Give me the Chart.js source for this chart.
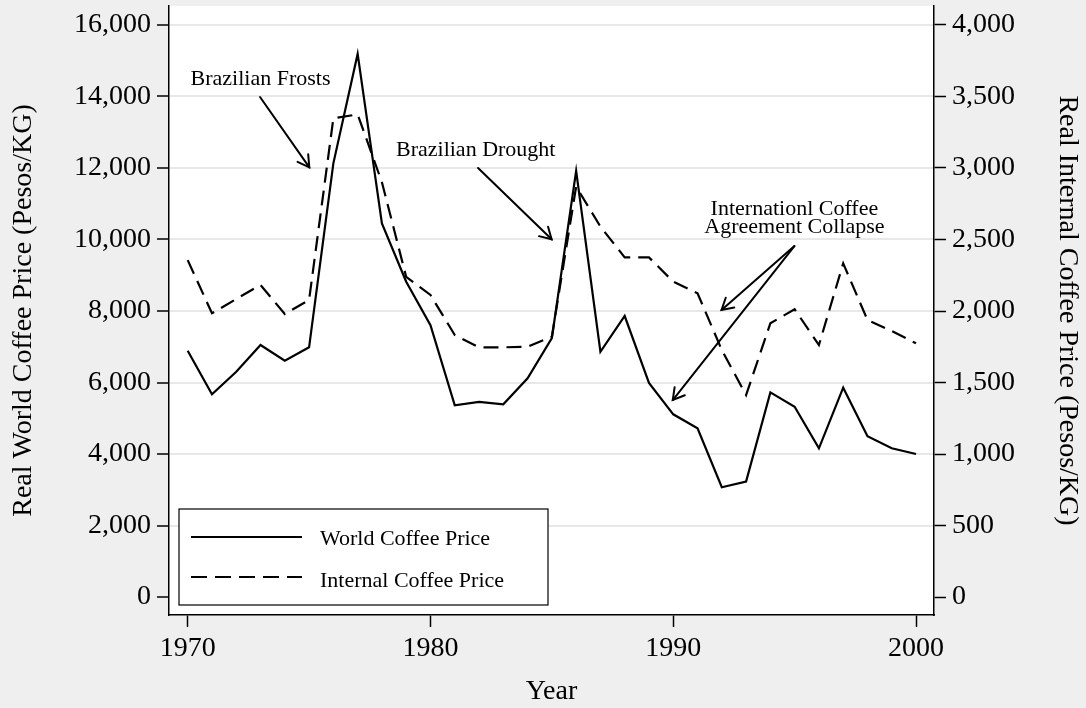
<!DOCTYPE html>
<html>
<head>
<meta charset="utf-8">
<script src="https://cdn.jsdelivr.net/npm/chart.js@4"></script>
<style>
html, body { margin: 0; padding: 0; background: #efefef; }
canvas { display: block; }
</style>
</head>
<body>
<canvas id="c" width="1086" height="708"></canvas>
<script>
// ---- Data ----
const years = [1970, 1971, 1972, 1973, 1974, 1975, 1976, 1977, 1978, 1979,
               1980, 1981, 1982, 1983, 1984, 1985, 1986, 1987, 1988, 1989,
               1990, 1991, 1992, 1993, 1994, 1995, 1996, 1997, 1998, 1999, 2000];
// Real World Coffee Price (Pesos/KG) - left axis
const worldPrice = [6890, 5670, 6300, 7050, 6610, 6985, 12130, 15190, 10450, 8820,
                    7600, 5360, 5460, 5390, 6120, 7240, 11920, 6860, 7860, 5990,
                    5110, 4720, 3070, 3230, 5725, 5320, 4160, 5855, 4500, 4160, 4000];
// Real Internal Coffee Price (Pesos/KG) - right axis
const internalPrice = [2356, 1984, 2084, 2182, 1979, 2077, 3347, 3375, 2900, 2238,
                       2112, 1832, 1746, 1746, 1750, 1820, 2870, 2590, 2375, 2375,
                       2205, 2124, 1727, 1412, 1914, 2012, 1762, 2333, 1937, 1860, 1774];
const xTicks = [1970, 1980, 1990, 2000];
const leftTicks = [0, 2000, 4000, 6000, 8000, 10000, 12000, 14000, 16000];
const rightTicks = [0, 500, 1000, 1500, 2000, 2500, 3000, 3500, 4000];
const seriesLabels = ['World Coffee Price', 'Internal Coffee Price'];
const xTitle = 'Year';
const leftTitle = 'Real World Coffee Price (Pesos/KG)';
const rightTitle = 'Real Internal Coffee Price (Pesos/KG)';

// ---- Annotations (in data coordinates: year, left-axis value) ----
const noteTexts = [
  { lines: ['Brazilian Frosts'], x: 1973.0, y: [14321], align: 'center' },
  { lines: ['Brazilian Drought'], x: 1978.58, y: [12343], align: 'left' },
  { lines: ['Internationl Coffee', 'Agreement Collapse'], x: 1994.99, y: [10685, 10173], align: 'center' }
];
const noteArrows = [
  { from: [1972.98, 13985], to: [1975.01, 12019] },
  { from: [1981.96, 11999], to: [1984.99, 10005] },
  { from: [1994.99, 9817], to: [1991.99, 8027] },
  { from: [1994.99, 9817], to: [1989.98, 5510] }
];

const FONT = "'Liberation Serif', 'Times New Roman', serif";
const DASH = [15, 8];

const bgPlugin = {
  id: 'bg',
  beforeDraw(chart) {
    const { ctx, chartArea: a } = chart;
    ctx.save();
    ctx.fillStyle = '#efefef';
    ctx.fillRect(0, 0, chart.width, chart.height);
    ctx.fillStyle = '#ffffff';
    ctx.fillRect(a.left, a.top, a.right - a.left, a.bottom - a.top);
    ctx.restore();
  }
};

const overlayPlugin = {
  id: 'overlay',
  afterDatasetsDraw(chart) {
    const { ctx, chartArea: a, scales } = chart;
    const px = v => scales.x.getPixelForValue(v);
    const py = v => scales.y.getPixelForValue(v);
    ctx.save();
    // annotation texts
    ctx.fillStyle = '#000';
    ctx.font = '22px ' + FONT;
    ctx.textBaseline = 'alphabetic';
    noteTexts.forEach(n => {
      ctx.textAlign = n.align;
      n.lines.forEach((t, i) => ctx.fillText(t, px(n.x), py(n.y[i])));
    });
    // arrows
    ctx.strokeStyle = '#000';
    ctx.lineWidth = 2;
    ctx.lineCap = 'round';
    noteArrows.forEach(ar => {
      const x1 = px(ar.from[0]), y1 = py(ar.from[1]);
      const x2 = px(ar.to[0]), y2 = py(ar.to[1]);
      ctx.beginPath();
      ctx.moveTo(x1, y1); ctx.lineTo(x2, y2); ctx.stroke();
      const ang = Math.atan2(y2 - y1, x2 - x1);
      const L = 13, h = Math.PI / 6;
      ctx.beginPath();
      ctx.moveTo(x2 - L * Math.cos(ang - h), y2 - L * Math.sin(ang - h));
      ctx.lineTo(x2, y2);
      ctx.lineTo(x2 - L * Math.cos(ang + h), y2 - L * Math.sin(ang + h));
      ctx.stroke();
    });
    // legend
    const bx = a.left + 10, by = a.bottom - 106, bw = 369, bh = 96;
    ctx.fillStyle = '#ffffff';
    ctx.fillRect(bx, by, bw, bh);
    ctx.lineWidth = 1.2;
    ctx.lineCap = 'butt';
    ctx.strokeRect(bx, by, bw, bh);
    const rows = [by + 28, by + 68];
    ctx.lineWidth = 2.2;
    rows.forEach((ry, i) => {
      ctx.setLineDash(i === 0 ? [] : [16, 8]);
      ctx.beginPath();
      ctx.moveTo(bx + 12, ry); ctx.lineTo(bx + 123, ry); ctx.stroke();
    });
    ctx.setLineDash([]);
    ctx.fillStyle = '#000';
    ctx.font = '22px ' + FONT;
    ctx.textAlign = 'left';
    ctx.textBaseline = 'alphabetic';
    ctx.fillText(seriesLabels[0], bx + 141, by + 36);
    ctx.fillText(seriesLabels[1], bx + 141, by + 77.5);
    ctx.restore();
  }
};

const tickFont = { family: FONT, size: 28 };
const titleFont = { family: FONT, size: 28 };
const noPad = s => { s.paddingTop = 0; s.paddingBottom = 0; s.paddingLeft = 0; s.paddingRight = 0; };

new Chart(document.getElementById('c'), {
  type: 'line',
  data: {
    datasets: [
      {
        label: seriesLabels[0],
        data: years.map((yr, i) => ({ x: yr, y: worldPrice[i] })),
        yAxisID: 'y',
        borderColor: '#000',
        borderWidth: 2.2,
        pointRadius: 0,
        tension: 0,
        fill: false
      },
      {
        label: seriesLabels[1],
        data: years.map((yr, i) => ({ x: yr, y: internalPrice[i] })),
        yAxisID: 'y2',
        borderColor: '#000',
        borderWidth: 2.2,
        borderDash: DASH,
        pointRadius: 0,
        tension: 0,
        fill: false
      }
    ]
  },
  options: {
    responsive: false,
    animation: false,
    devicePixelRatio: 1,
    layout: { padding: { top: 6, left: 0, right: 0, bottom: 0 } },
    plugins: { legend: { display: false }, tooltip: { enabled: false } },
    scales: {
      x: {
        type: 'linear',
        min: 1969.23,
        max: 2000.74,
        afterBuildTicks: s => { s.ticks = xTicks.map(v => ({ value: v })); },
        afterFit: s => { s.height = 93; noPad(s); },
        grid: { drawOnChartArea: false, drawTicks: true, tickLength: 12, tickColor: '#000', tickWidth: 1.5 },
        border: { display: true, color: '#000', width: 1.5 },
        ticks: { color: '#000', font: tickFont, padding: 5, maxRotation: 0, autoSkip: false,
                 callback: v => String(v) },
        title: { display: true, text: xTitle, color: '#000', font: titleFont, padding: { top: 0, bottom: 0 } }
      },
      y: {
        type: 'linear',
        position: 'left',
        min: -503,
        max: 16531,
        afterBuildTicks: s => { s.ticks = leftTicks.map(v => ({ value: v })); },
        afterFit: s => { s.width = 169; noPad(s); },
        grid: {
          drawOnChartArea: true,
          color: c => (c.tick && c.tick.value === 0) ? 'rgba(0,0,0,0)' : '#e8e8e8',
          lineWidth: 2,
          drawTicks: true, tickLength: 12, tickColor: '#000', tickWidth: 1.5
        },
        border: { display: true, color: '#000', width: 1.5 },
        ticks: { color: '#000', font: tickFont, padding: 6, autoSkip: false,
                 callback: v => v.toLocaleString('en-US') },
        title: { display: true, text: leftTitle, color: '#000', font: titleFont, padding: { top: 7, bottom: 0 } }
      },
      y2: {
        type: 'linear',
        position: 'right',
        min: -503 / 4,
        max: 16531 / 4,
        afterBuildTicks: s => { s.ticks = rightTicks.map(v => ({ value: v })); },
        afterFit: s => { s.width = 152; noPad(s); },
        grid: { drawOnChartArea: false, drawTicks: true, tickLength: 12, tickColor: '#000', tickWidth: 1.5 },
        border: { display: true, color: '#000', width: 1.5 },
        ticks: { color: '#000', font: tickFont, padding: 6, autoSkip: false,
                 callback: v => v.toLocaleString('en-US') },
        title: { display: true, text: rightTitle, color: '#000', font: titleFont, padding: { top: 2, bottom: 0 } }
      }
    }
  },
  plugins: [bgPlugin, overlayPlugin]
});
</script>
</body>
</html>
